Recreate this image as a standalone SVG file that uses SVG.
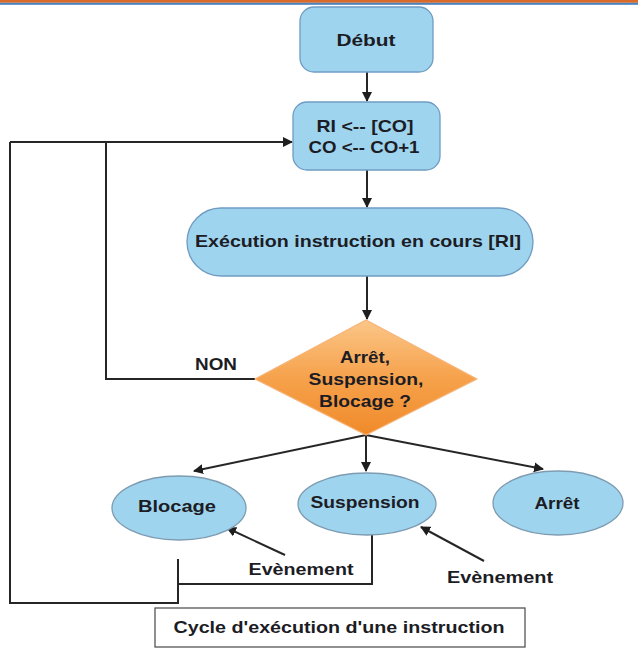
<svg xmlns="http://www.w3.org/2000/svg" width="638" height="662" viewBox="0 0 638 662">
<defs>
<marker id="ah" viewBox="0 0 10 10" refX="9" refY="5" markerWidth="5" markerHeight="5" orient="auto" markerUnits="strokeWidth">
<path d="M0,0 L10,5 L0,10 z" fill="#1e1e1e"/>
</marker>
<linearGradient id="og" x1="0" y1="0" x2="0" y2="1">
<stop offset="0" stop-color="#fbc688"/>
<stop offset="0.5" stop-color="#f6a24c"/>
<stop offset="1" stop-color="#f08a2a"/>
</linearGradient>
<style>
.box{fill:#9fd4ef;stroke:#6f9cc2;stroke-width:1.3}
.ell{fill:#9fd4ef;stroke:#7e9cb1;stroke-width:1.3}
.t{font-family:"Liberation Sans",Arial,sans-serif;font-weight:bold;font-size:17px;fill:#1c1c24;text-anchor:middle}
.c{fill:none;stroke:#262626;stroke-width:2}
.ca{fill:none;stroke:#262626;stroke-width:2;marker-end:url(#ah)}
</style>
</defs>
<rect x="0" y="0" width="638" height="2.8" fill="#d96a2a"/>
<rect x="0" y="2.8" width="638" height="2" fill="#4a82bd"/>

<g id="connectors">
<path class="ca" d="M367,72 V101"/>
<path class="ca" d="M367,170 V207"/>
<path class="ca" d="M367,276 V319"/>
<path class="ca" d="M366,435 L194,471"/>
<path class="ca" d="M366,435 V471"/>
<path class="ca" d="M366,435 L543,469"/>
<path class="ca" d="M10,142 H292"/>
<path class="c" d="M255,379 H106 V142"/>
<path class="c" d="M178,559 V603 H10 V142"/>
<path class="c" d="M372,535 V584 H178"/>
<path class="ca" d="M285,555 L227,528"/>
<path class="ca" d="M484,561 L421,527"/>
</g>

<g id="debut">
<rect class="box" x="300" y="7" width="133" height="65" rx="14"/>
<text class="t" x="366" y="46" textLength="59" lengthAdjust="spacingAndGlyphs">Début</text>
</g>
<g id="fetch">
<rect class="box" x="293" y="102" width="147" height="68" rx="14"/>
<text class="t" x="365" y="132" textLength="97" lengthAdjust="spacingAndGlyphs">RI &lt;-- [CO]</text>
<text class="t" x="364" y="153" textLength="111" lengthAdjust="spacingAndGlyphs">CO &lt;-- CO+1</text>
</g>
<g id="execution">
<rect class="box" x="187" y="208" width="346" height="68" rx="34"/>
<text class="t" x="358" y="247" textLength="326" lengthAdjust="spacingAndGlyphs">Exécution instruction en cours [RI]</text>
</g>
<g id="decision">
<polygon points="366,320 477,379 366,435 255,379" fill="url(#og)" stroke="#f6b478" stroke-width="1.3" stroke-linejoin="round"/>
<text class="t" x="365" y="363" textLength="50" lengthAdjust="spacingAndGlyphs">Arrêt,</text>
<text class="t" x="366" y="385" textLength="115" lengthAdjust="spacingAndGlyphs">Suspension,</text>
<text class="t" x="365" y="407" textLength="92" lengthAdjust="spacingAndGlyphs">Blocage ?</text>
</g>
<text class="t" x="216" y="370" textLength="42" lengthAdjust="spacingAndGlyphs">NON</text>
<g id="blocage">
<ellipse class="ell" cx="179" cy="508" rx="67" ry="32"/>
<text class="t" x="177" y="512" textLength="78" lengthAdjust="spacingAndGlyphs">Blocage</text>
</g>
<g id="suspension">
<ellipse class="ell" cx="367" cy="504" rx="69" ry="31"/>
<text class="t" x="365" y="508" textLength="109" lengthAdjust="spacingAndGlyphs">Suspension</text>
</g>
<g id="arret">
<ellipse class="ell" cx="558" cy="503" rx="65" ry="32"/>
<text class="t" x="557" y="509" textLength="45" lengthAdjust="spacingAndGlyphs">Arrêt</text>
</g>
<text class="t" x="301" y="575" textLength="105" lengthAdjust="spacingAndGlyphs">Evènement</text>
<text class="t" x="500" y="583" textLength="106" lengthAdjust="spacingAndGlyphs">Evènement</text>
<g id="caption">
<rect x="155" y="608" width="370" height="39" fill="#fff" stroke="#555" stroke-width="1.3"/>
<text class="t" x="339" y="633" textLength="331" lengthAdjust="spacingAndGlyphs">Cycle d'exécution d'une instruction</text>
</g>
</svg>
